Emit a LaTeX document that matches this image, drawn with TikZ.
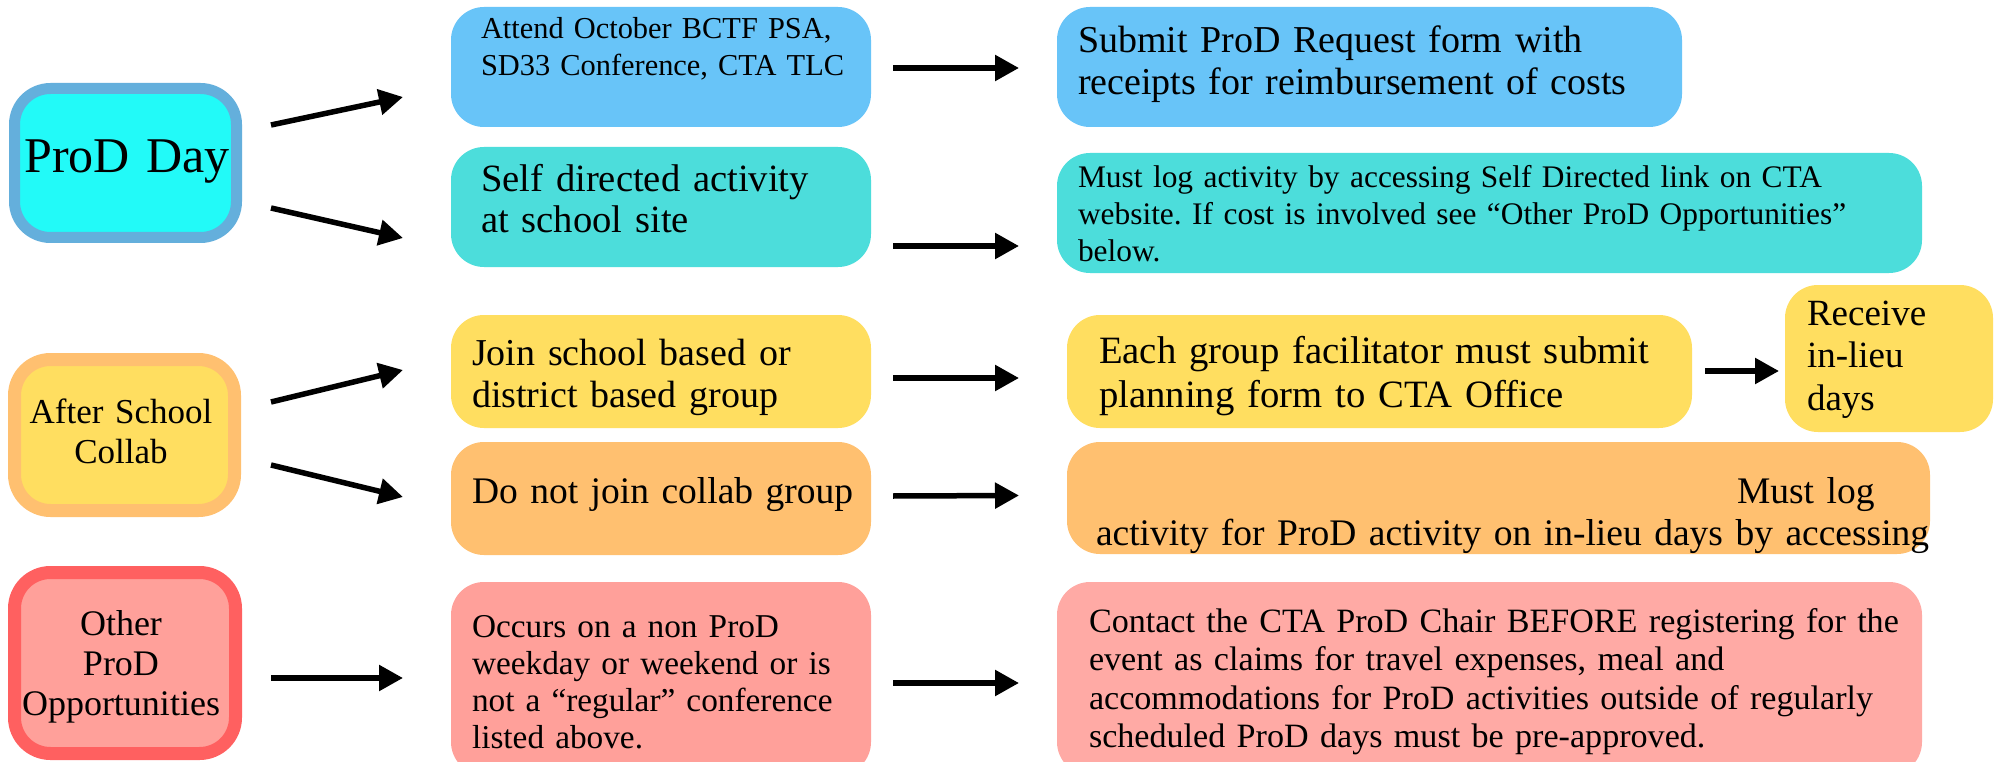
\documentclass[tikz,border=0pt]{standalone}
\usepackage{fontspec}
\setmainfont{Liberation Serif}
\usetikzlibrary{arrows.meta,calc}

\definecolor{prodfill}{RGB}{34,250,248}
\definecolor{prodedge}{RGB}{100,175,220}
\definecolor{skyblue}{RGB}{104,196,248}
\definecolor{turq}{RGB}{76,221,219}
\definecolor{sun}{RGB}{255,222,96}
\definecolor{peach}{RGB}{255,192,112}
\definecolor{salmon}{RGB}{255,160,154}
\definecolor{salmonlt}{RGB}{255,170,165}
\definecolor{coral}{RGB}{255,96,96}

\newcommand{\setfs}[2]{\fontsize{#1}{#2}\selectfont}
\frenchspacing

\begin{document}
\begin{tikzpicture}[x=1pt,y=-1pt,
  box/.style={rectangle, rounded corners=33pt, outer sep=0pt, inner sep=0pt, draw=none},
  catbox/.style={rectangle, rounded corners=36pt, outer sep=0pt, inner sep=0pt},
  txt/.style={anchor=base west, inner sep=0pt, outer sep=0pt, text width=#1, align=left},
  txt/.default=880pt,
  ctxt/.style={anchor=base, inner sep=0pt, outer sep=0pt, text width=240pt, align=center},
  arr/.style={line width=5.5pt, -{Triangle[length=24pt,width=25pt]}}]

% canvas
\fill[white] (0,0) rectangle (2000,762);
\useasboundingbox (0,0) rectangle (2000,762);

% category boxes (left column)
\node[catbox, fill=prodfill, draw=prodedge, line width=11pt,
      minimum width=222pt, minimum height=149pt] (prod) at (125.5,163) {};
\node[catbox, fill=sun, draw=peach, line width=13pt,
      minimum width=220pt, minimum height=151pt] (after) at (124.5,435) {};
\node[catbox, fill=salmon, draw=coral, line width=13pt,
      minimum width=221pt, minimum height=181pt] (other) at (125,663) {};

\node[ctxt, font=\setfs{50}{56}] (prodT) at (127,173) {ProD Day};
\node[ctxt, font=\setfs{35}{40}] (afterT) at (121,423) {After School\\Collab};
\node[ctxt, font=\setfs{36}{40}] (otherT) at (121,635) {Other\\ProD\\Opportunities};

% middle column
\node[box, fill=skyblue, minimum width=420pt, minimum height=120pt] (attend) at (661,67) {};
\node[box, fill=turq,    minimum width=420pt, minimum height=120pt] (self)   at (661,207) {};
\node[box, fill=sun,     minimum width=420pt, minimum height=113pt] (join)   at (661,371.5) {};
\node[box, fill=peach,   minimum width=420pt, minimum height=113pt] (donot)  at (661,498.5) {};
\node[box, fill=salmon,  minimum width=420pt, minimum height=193pt] (occurs) at (661,678.5) {};

\node[txt, font=\setfs{30.4}{37}] (attendT) at (481,39) {Attend October BCTF PSA,\\SD33 Conference, CTA TLC};
\node[txt, font=\setfs{38.6}{41}] (selfT) at (481,192) {Self directed activity\\at school site};
\node[txt, font=\setfs{38}{42}] (joinT) at (472,365) {Join school based or\\district based group};
\node[txt, font=\setfs{37.5}{42}] (donotT) at (472,503) {Do not join collab group};
\node[txt, font=\setfs{33.3}{37}] (occursT) at (472,637) {Occurs on a non ProD\\weekday or weekend or is\\not a \textquotedblleft regular\textquotedblright\ conference\\listed above.};

% right column
\node[box, fill=skyblue,  minimum width=625pt, minimum height=120pt] (submit)   at (1369.5,67) {};
\node[box, fill=turq,     minimum width=865pt, minimum height=120pt] (mustlog)  at (1489.5,213) {};
\node[box, fill=sun,      minimum width=625pt, minimum height=113pt] (each)     at (1379.5,371.5) {};
\node[box, fill=sun,      minimum width=208pt, minimum height=147pt] (receive)  at (1889,358.5) {};
\node[box, fill=peach,    minimum width=863pt, minimum height=112pt] (mustlogb) at (1498.5,498) {};
\node[box, fill=salmonlt, minimum width=865pt, minimum height=193pt] (contact)  at (1489.5,678.5) {};

\node[txt, font=\setfs{38}{42}] (submitT) at (1078,53) {Submit ProD Request form with\\receipts for reimbursement of costs};
\node[txt, font=\setfs{31.4}{37}] (mustlogT) at (1078,188) {Must log activity by accessing Self Directed link on CTA\\website. If cost is involved see \textquotedblleft Other ProD Opportunities\textquotedblright\\below.};
\node[txt, font=\setfs{38.7}{44}] (eachT) at (1099,363) {Each group facilitator must submit\\planning form to CTA Office};
\node[txt=200pt, font=\setfs{37}{42.5}] (receiveT) at (1807,325) {Receive\\in-lieu\\days};
\node[txt, font=\setfs{37.5}{42}] (mustlogbT) at (1096,503) {\hspace*{641pt}Must log\\activity for ProD activity on in-lieu days by accessing};
\node[txt, font=\setfs{34.1}{38.5}] (contactT) at (1089,632) {Contact the CTA ProD Chair BEFORE registering for the\\event as claims for travel expenses, meal and\\accommodations for ProD activities outside of regularly\\scheduled ProD days must be pre-approved.};

% connectors
\draw[arr] ($(prod.east)+(34.5,-38)$) -- ($(attend.west)+(-48,30)$);
\draw[arr] ($(prod.east)+(34.5,45)$) -- ($(self.west)+(-48,31)$);
\draw[arr] ($(attend.east)+(22,1)$) -- ($(submit.west)+(-38,1)$);
\draw[arr] ($(self.east)+(22,39)$) -- ($(mustlog.west)+(-38,33)$);
\draw[arr] ($(after.east)+(36.5,-33)$) -- ($(join.west)+(-48,-1.5)$);
\draw[arr] ($(after.east)+(36.5,30)$) -- ($(donot.west)+(-48,-1.5)$);
\draw[arr] ($(join.east)+(22,6.5)$) -- ($(each.west)+(-48,6.5)$);
\draw[arr] ($(donot.east)+(22,-2.5)$) -- ($(mustlogb.west)+(-48,-2.5)$);
\draw[arr] ($(each.east)+(13,-0.5)$) -- ($(receive.west)+(-6,12.5)$);
\draw[arr] ($(other.east)+(35.5,15)$) -- ($(occurs.west)+(-48,-0.5)$);
\draw[arr] ($(occurs.east)+(22,4.5)$) -- ($(contact.west)+(-38,4.5)$);
\end{tikzpicture}
\end{document}
